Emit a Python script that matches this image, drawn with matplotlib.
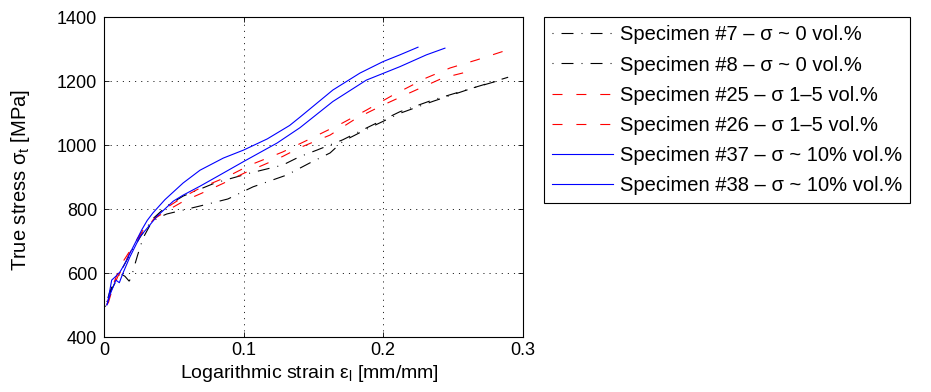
import numpy as np
import matplotlib
matplotlib.use('Agg')
import matplotlib.pyplot as plt

plt.rcParams['font.family'] = ['Liberation Sans', 'DejaVu Sans']
plt.rcParams['mathtext.default'] = 'regular'
plt.rcParams['lines.scale_dashes'] = False

# Specimen #7 - black dash-dot
x7 = [0.002, 0.005, 0.008, 0.012, 0.015, 0.020, 0.027, 0.035, 0.045, 0.0567,
      0.0795, 0.1046, 0.128, 0.140, 0.1526, 0.171, 0.188, 0.212, 0.2357,
      0.2716, 0.2896]
y7 = [510, 545, 570, 605, 630, 670, 720, 770, 810, 841,
      882, 913, 938, 964, 985, 1017, 1054, 1105, 1142,
      1189, 1213]

# Specimen #8 - black dash-dot (lags early on)
x8 = [0.001, 0.004, 0.008, 0.012, 0.015, 0.018, 0.0195, 0.022, 0.024, 0.028,
      0.033, 0.038, 0.045, 0.0688, 0.0888, 0.1068, 0.131, 0.1476, 0.162,
      0.171, 0.188, 0.212, 0.236, 0.262, 0.284]
y8 = [495, 540, 580, 598, 590, 575, 585, 625, 655, 710,
      750, 772, 785, 810, 832, 870, 907, 945, 976,
      1012, 1050, 1100, 1138, 1176, 1204]

# Specimen #25 - red dashed
x25 = [0.002, 0.005, 0.008, 0.012, 0.016, 0.020, 0.026, 0.035, 0.045, 0.0567,
       0.0688, 0.088, 0.1046, 0.128, 0.1476, 0.171, 0.188, 0.207, 0.231,
       0.248, 0.267, 0.2874]
y25 = [500, 545, 580, 625, 652, 680, 722, 765, 805, 838,
       866, 901, 938, 979, 1020, 1070, 1110, 1157, 1211,
       1242, 1267, 1296]

# Specimen #26 - red dashed
x26 = [0.003, 0.006, 0.010, 0.014, 0.018, 0.022, 0.028, 0.036, 0.045, 0.057,
       0.070, 0.085, 0.100, 0.115, 0.128, 0.140, 0.162, 0.181, 0.200, 0.219,
       0.243, 0.266]
y26 = [505, 550, 590, 620, 660, 690, 735, 770, 795, 825,
       850, 880, 912, 940, 965, 992, 1032, 1085, 1126, 1164,
       1211, 1236]

# Specimen #37 - blue solid
x37 = [0.0024, 0.0055, 0.0085, 0.0115, 0.0150, 0.0186, 0.023, 0.027, 0.031,
       0.035, 0.0437, 0.0567, 0.0688, 0.0855, 0.100, 0.117, 0.133, 0.1404,
       0.164, 0.1834, 0.200, 0.212, 0.225]
y37 = [503, 578, 590, 604, 630, 662, 700, 735, 765,
       788, 830, 882, 922, 960, 985, 1020, 1062, 1088,
       1173, 1226, 1262, 1283, 1307]

# Specimen #38 - blue solid
x38 = [0.002, 0.005, 0.0085, 0.011, 0.0136, 0.0186, 0.0258, 0.0318, 0.0378,
       0.0496, 0.0567, 0.0688, 0.081, 0.100, 0.124, 0.1404, 0.164, 0.188,
       0.212, 0.231, 0.2443]
y38 = [500, 540, 578, 570, 600, 651, 714, 745, 777,
       825, 844, 872, 902, 949, 1007, 1055, 1137, 1204,
       1246, 1283, 1304]

labels = ['Specimen #7 \u2013 \u03c3 ~ 0 vol.%',
          'Specimen #8 \u2013 \u03c3 ~ 0 vol.%',
          'Specimen #25 \u2013 \u03c3 1\u20135 vol.%',
          'Specimen #26 \u2013 \u03c3 1\u20135 vol.%',
          'Specimen #37 \u2013 \u03c3 ~ 10% vol.%',
          'Specimen #38 \u2013 \u03c3 ~ 10% vol.%']

dashdot = (0, (0.7, 5.8, 8.6, 5.8))
dashed = (0, (7.2, 10.0))

fig = plt.figure(figsize=(9.31, 3.92), dpi=100)
ax = fig.add_axes([0.1117, 0.1403, 0.4497, 0.8151])

ax.plot(x7, y7, color='black', lw=0.8, linestyle=dashdot, label=labels[0])
ax.plot(x8, y8, color='black', lw=0.8, linestyle=dashdot, label=labels[1])
ax.plot(x25, y25, color='red', lw=0.8, linestyle=dashed, label=labels[2])
ax.plot(x26, y26, color='red', lw=0.8, linestyle=dashed, label=labels[3])
ax.plot(x37, y37, color='blue', lw=0.8, linestyle='-', label=labels[4])
ax.plot(x38, y38, color='blue', lw=0.8, linestyle='-', label=labels[5])

ax.set_xlim(0, 0.3)
ax.set_ylim(400, 1400)
ax.set_xticks([0, 0.1, 0.2, 0.3])
ax.set_xticklabels(['0', '0.1', '0.2', '0.3'])
ax.set_yticks([400, 600, 800, 1000, 1200, 1400])
ax.tick_params(direction='in', top=True, right=True, length=3.5,
               width=0.6, labelsize=13)
ax.tick_params(axis='x', pad=3.5)
ax.tick_params(axis='y', pad=5)
ax.grid(True, color='black', linestyle=(0, (0.8, 3.6)), lw=0.6)
for s in ax.spines.values():
    s.set_linewidth(0.8)

ax.set_xlabel('Logarithmic strain \u03b5$_l$ [mm/mm]', fontsize=14)
ax.set_ylabel('True stress \u03c3$_t$ [MPa]', fontsize=14.5)
ax.xaxis.set_label_coords(0.49, -0.08)
ax.yaxis.set_label_coords(-0.172, 0.491)

leg = ax.legend(loc='upper left', bbox_to_anchor=(544 / 931, 1 - 17 / 392),
                bbox_transform=fig.transFigure, borderaxespad=0,
                fancybox=False, edgecolor='black', framealpha=1,
                fontsize=14.5, handlelength=3.0, handletextpad=0.33,
                labelspacing=0.55, borderpad=0.42)
leg.get_frame().set_linewidth(0.8)

fig.savefig('out.png', dpi=100)
